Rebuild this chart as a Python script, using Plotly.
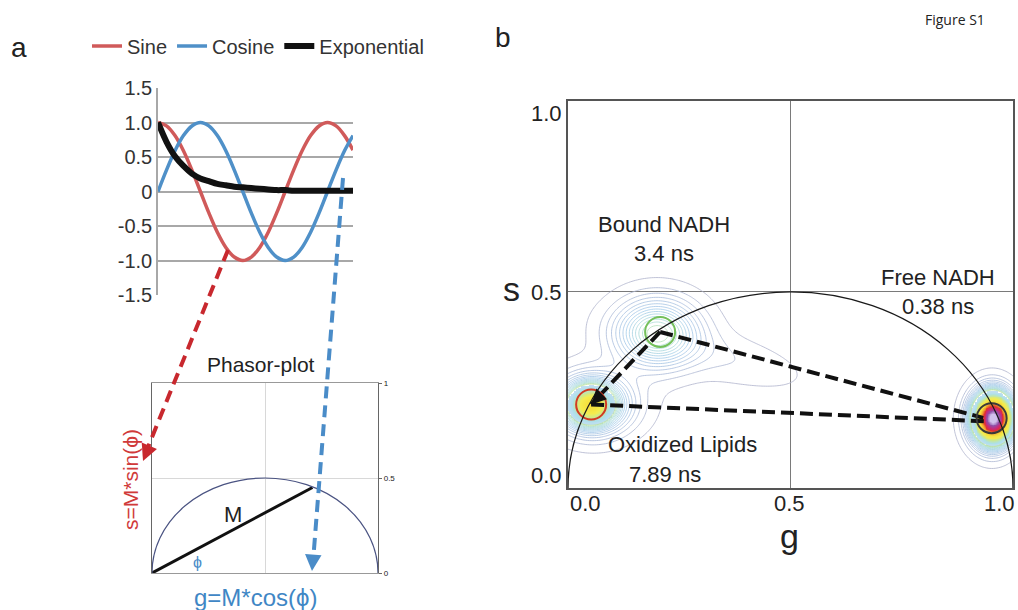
import numpy as np
import plotly.graph_objects as go

W, H = 1018, 610

# ---------------- data: panel a (waveforms) ----------------
t_index = list(range(24))
sine_vals = [1.0, 0.95, 0.81, 0.59, 0.31, 0.0, -0.31, -0.59, -0.81, -0.95, -1.0, -0.95,
             -0.81, -0.59, -0.31, 0.0, 0.31, 0.59, 0.81, 0.95, 1.0, 0.95, 0.81, 0.60]
cosine_vals = [0.0, 0.31, 0.59, 0.81, 0.95, 1.0, 0.95, 0.81, 0.59, 0.31, 0.0, -0.31,
               -0.59, -0.81, -0.95, -1.0, -0.95, -0.81, -0.59, -0.31, 0.0, 0.31, 0.59, 0.81]
exp_vals = [1.0, 0.72, 0.51, 0.37, 0.26, 0.19, 0.15, 0.11, 0.09, 0.07, 0.06, 0.05,
            0.04, 0.03, 0.02, 0.02, 0.01, 0.01, 0.01, 0.01, 0.01, 0.01, 0.01, 0.01]
wave_ticks = [-1.5, -1.0, -0.5, 0, 0.5, 1.0, 1.5]
wave_ticktext = ["-1.5", "-1.0", "-0.5", "0", "0.5", "1.0", "1.5"]

# phasor vector (g, s)
phasor_g = [0.0, 0.71]
phasor_s = [0.0, 0.45]

# ---------------- data: panel b (phasor clusters) ----------------
cluster_g = [0.050, 0.055, 0.065, 0.200, 0.330, 0.955, 0.952]
cluster_s = [0.212, 0.212, 0.220, 0.395, 0.340, 0.178, 0.178]
cluster_sig_g = [0.028, 0.050, 0.070, 0.060, 0.130, 0.024, 0.032]
cluster_sig_s = [0.028, 0.045, 0.055, 0.055, 0.040, 0.034, 0.048]
cluster_angle = [0.0, 0.0, 0.0, 0.0, -0.30, 0.0, 0.0]
cluster_peak = [1.30, 0.55, 0.12, 0.55, 0.06, 3.6, 0.6]

# species positions: oxidized lipids, bound NADH, free NADH
species_g = [0.052, 0.207, 0.952]
species_s = [0.213, 0.398, 0.178]
species_ring = ["#d23a22", "#74c05a", "#3a3a3a"]
line_end_g = [0.942, 0.933]
line_end_s = [0.170, 0.179]

# ---------------- density grid ----------------
gg = np.linspace(0, 1, 251)
ss = np.linspace(0, 0.99, 249)
G, S = np.meshgrid(gg, ss)
Z = np.zeros_like(G)
for g0, s0, sg, sv, th, a in zip(cluster_g, cluster_s, cluster_sig_g, cluster_sig_s,
                                  cluster_angle, cluster_peak):
    dx, dy = G - g0, S - s0
    u = dx * np.cos(th) + dy * np.sin(th)
    v = -dx * np.sin(th) + dy * np.cos(th)
    Z += a * np.exp(-(u ** 2 / (2 * sg ** 2) + v ** 2 / (2 * sv ** 2)))
Zfill = np.where(Z >= 0.6, Z, np.nan)


def px(x):
    return x / W


def py(y):
    return 1 - y / H


FONT = "Liberation Sans, Arial, sans-serif"
RED = "#d05a5a"
BLUE = "#4f90c8"

fig = go.Figure()

# panel a waveforms
fig.add_trace(go.Scatter(x=t_index, y=sine_vals, name="Sine", mode="lines",
                         line=dict(color=RED, width=3.5, shape="spline"), xaxis="x", yaxis="y"))
fig.add_trace(go.Scatter(x=t_index, y=cosine_vals, name="Cosine", mode="lines",
                         line=dict(color=BLUE, width=3.5, shape="spline"), xaxis="x", yaxis="y"))
fig.add_trace(go.Scatter(x=t_index, y=exp_vals, name="Exponential", mode="lines",
                         line=dict(color="#111111", width=6, shape="spline"), xaxis="x", yaxis="y"))

# phasor vector
fig.add_trace(go.Scatter(x=phasor_g, y=phasor_s, mode="lines", showlegend=False,
                         line=dict(color="#111111", width=3), xaxis="x2", yaxis="y2"))

# panel b contours
fig.add_trace(go.Contour(x=gg, y=ss, z=Z, xaxis="x3", yaxis="y3", showscale=False,
                         showlegend=False,
                         contours=dict(coloring="lines", start=0.02, end=0.58, size=0.04),
                         line=dict(width=0.8), zmin=0, zmax=0.6,
                         colorscale=[[0, "#aeb2cc"], [0.2, "#a8bcdc"], [0.5, "#a2cbea"],
                                     [0.85, "#a8dcd4"], [1, "#bfe3a0"]],
                         hoverinfo="skip"))
fig.add_trace(go.Heatmap(x=gg, y=ss, z=Zfill, xaxis="x3", yaxis="y3", showscale=False,
                         showlegend=False,
                         zmin=0.6, zmax=4.0, zsmooth="best", hoverinfo="skip",
                         colorscale=[[0, "#c4def2"], [0.09, "#ace0ea"], [0.18, "#cce88e"],
                                     [0.27, "#f4ec50"], [0.41, "#f5de3a"], [0.53, "#f0a030"],
                                     [0.65, "#e0302c"], [0.77, "#c8287a"], [0.89, "#9050a8"],
                                     [1, "#d0c0ec"]]))

# dashed lines between species
DASH = dict(color="#111111", width=4, dash="13px,6px")
fig.add_trace(go.Scatter(x=[species_g[1], species_g[0]], y=[species_s[1], species_s[0]],
                         mode="lines", showlegend=False, xaxis="x3", yaxis="y3", line=DASH))
fig.add_trace(go.Scatter(x=[species_g[0], line_end_g[0]], y=[species_s[0], line_end_s[0]],
                         mode="lines", showlegend=False, xaxis="x3", yaxis="y3", line=DASH))
fig.add_trace(go.Scatter(x=[species_g[1], line_end_g[1]], y=[species_s[1], line_end_s[1]],
                         mode="lines", showlegend=False, xaxis="x3", yaxis="y3", line=DASH))
# cursor rings
fig.add_trace(go.Scatter(x=species_g, y=species_s, mode="markers", showlegend=False,
                         xaxis="x3", yaxis="y3", hoverinfo="skip",
                         marker=dict(symbol="circle-open", size=30, color=species_ring,
                                     line=dict(color=species_ring, width=2))))

axis_common = dict(showticklabels=False, ticks="", zeroline=False)

fig.update_layout(
    width=W, height=H, margin=dict(l=0, r=0, t=0, b=0, autoexpand=False),
    paper_bgcolor="white", plot_bgcolor="rgba(0,0,0,0)",
    font=dict(family=FONT, color="#222222"),
    showlegend=True,
    legend=dict(orientation="h", x=px(87), y=py(46), xanchor="left", yanchor="middle",
                font=dict(size=20, color="#333333"), bgcolor="rgba(0,0,0,0)",
                itemwidth=30, tracegroupgap=0),
    xaxis=dict(domain=[px(158), px(353)], range=[0, 23], showgrid=False, **axis_common,
               showline=False, anchor="y"),
    yaxis=dict(domain=[py(295), py(88)], range=[-1.5, 1.5], tickvals=wave_ticks,
               ticktext=wave_ticktext, showgrid=True, gridcolor="#a8a8a8", gridwidth=1.5,
               showline=True, linecolor="#a8a8a8", linewidth=1.5, zeroline=False,
               ticks="", tickfont=dict(size=20, color="#333333"), anchor="x"),
    xaxis2=dict(domain=[px(152), px(378)], range=[0, 1], tickvals=[0.5], showgrid=True,
                gridcolor="#d8d8d8", gridwidth=1, showline=True, mirror=True,
                linecolor="#999999", linewidth=1.2, anchor="y2", **axis_common),
    yaxis2=dict(domain=[py(573), py(383)], range=[0, 1], side="right", anchor="x2",
                tickvals=[0, 0.5, 1], ticktext=["0", "0.5", "1"], showgrid=True,
                gridcolor="#d8d8d8", gridwidth=1, showline=True, mirror=True,
                linecolor="#666666", linewidth=1.2, ticks="outside", ticklen=3,
                tickcolor="#666666", zeroline=False,
                tickfont=dict(size=8, color="#222222")),
    xaxis3=dict(domain=[px(568), px(1013)], range=[0, 1], tickvals=[0.5], showgrid=True,
                gridcolor="#7a7a7a", gridwidth=1.2, showline=True, mirror=True,
                linecolor="#555555", linewidth=2, anchor="y3", **axis_common),
    yaxis3=dict(domain=[py(488), py(101)], range=[0, 0.987], tickvals=[0.5], showgrid=True,
                gridcolor="#7a7a7a", gridwidth=1.2, showline=True, mirror=True,
                linecolor="#555555", linewidth=2, anchor="x3", **axis_common),
)

shapes = [
    # universal semicircles
    dict(type="circle", xref="x2", yref="y2", x0=0, x1=1, y0=-0.5, y1=0.5,
         line=dict(color="#4a5382", width=1.2)),
    dict(type="circle", xref="x3", yref="y3", x0=0, x1=1, y0=-0.5, y1=0.5,
         line=dict(color="#1a1a1a", width=1.3)),
    # dashed guide arrows in panel a
    dict(type="line", xref="paper", yref="paper", x0=px(228), y0=py(250), x1=px(146),
         y1=py(452), line=dict(color="#c8282e", width=4, dash="12px,7px")),
    dict(type="line", xref="paper", yref="paper", x0=px(343), y0=py(178), x1=px(313),
         y1=py(562), line=dict(color="#4a8cc8", width=4, dash="12px,7px")),
]

ann = []


def text(x, y, s, size, color="#222222", xref="paper", yref="paper", family=FONT,
         xanchor="center", yanchor="middle", **kw):
    ann.append(dict(x=x, y=y, xref=xref, yref=yref, text=s, showarrow=False,
                    xanchor=xanchor, yanchor=yanchor,
                    font=dict(size=size, color=color, family=family), **kw))


text(px(19), py(47), "a", 28)
text(px(503), py(37), "b", 28)
text(px(955), py(19), "Figure S1", 14, family="Open Sans, sans-serif")
text(px(261), py(364), "Phasor-plot", 21)
text(px(130), py(480), "s=M*sin(ϕ)", 21, color="#d03a3a", textangle=-90)
text(px(255), py(597), "g=M*cos(ϕ)", 24, color="#3f87c5")
text(0.36, 0.31, "M", 22, xref="x2", yref="y2")
text(px(197), py(562), "ϕ", 16, color="#4a8cc8")

# panel b texts
text(px(664), py(224), "Bound NADH", 22)
text(px(664), py(254), "3.4 ns", 22)
text(px(938), py(277), "Free NADH", 22)
text(px(938), py(306), "0.38 ns", 22)
text(px(682), py(444), "Oxidized Lipids", 22)
text(px(665), py(474), "7.89 ns", 22)
text(px(511), py(289), "s", 34)
text(px(789), py(536), "g", 34)
# panel b tick labels
text(px(564), py(113), "1.0", 22, xanchor="right")
text(px(564), py(292), "0.5", 22, xanchor="right")
text(px(564), py(475), "0.0", 22, xanchor="right")
text(px(585), py(503), "0.0", 22)
text(px(789), py(503), "0.5", 22)
text(px(999), py(503), "1.0", 22)

# arrow heads
ann.append(dict(x=px(143), y=py(461), xref="paper", yref="paper", text="", showarrow=True,
                ax=5, ay=-12, arrowhead=2, arrowsize=1.1, arrowwidth=3, arrowcolor="#c8282e"))
ann.append(dict(x=px(312), y=py(571), xref="paper", yref="paper", text="", showarrow=True,
                ax=1, ay=-13, arrowhead=2, arrowsize=1.1, arrowwidth=3, arrowcolor="#4a8cc8"))
ann.append(dict(x=species_g[0], y=species_s[0], xref="x3", yref="y3", text="",
                showarrow=True, ax=9, ay=-9, arrowhead=2, arrowsize=1.0, arrowwidth=3,
                arrowcolor="#111111"))

fig.update_layout(shapes=shapes, annotations=ann)
fig.write_html("out.html")
